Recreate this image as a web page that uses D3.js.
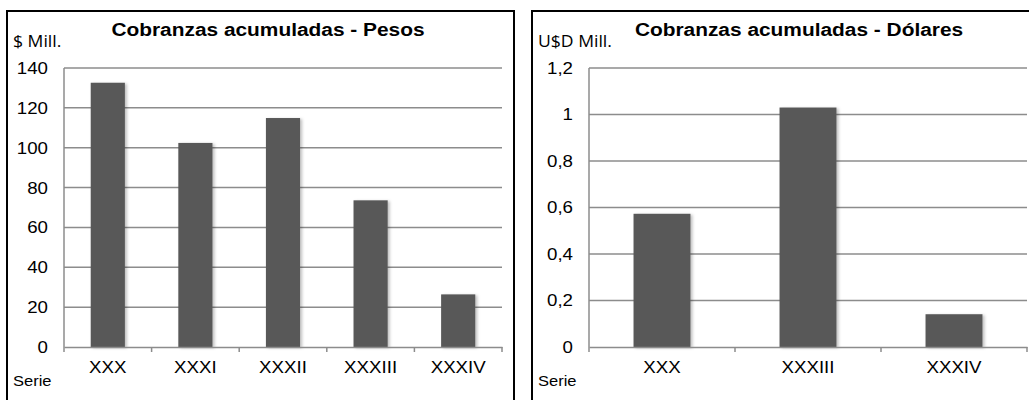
<!DOCTYPE html>
<meta charset="utf-8">
<style>
body { margin: 0; background: #fff; }
svg { display: block; font-family: "Liberation Sans", Arial, sans-serif; }
.grid line { stroke: #8c8c8c; stroke-width: 1.5px; }
.axis path, .axis line { stroke: #8c8c8c; stroke-width: 1.5px; fill: none; }
.bar { fill: #595959; }
</style>
<body>
<svg width="1029" height="400"></svg>
<script src="https://cdn.jsdelivr.net/npm/d3@7/dist/d3.min.js"></script>
<script>

// data
var pesosSeries = ["XXX", "XXXI", "XXXII", "XXXIII", "XXXIV"];
var pesosValues = [132.6, 102.4, 114.9, 73.6, 26.4];
var pesosTicks = [0, 20, 40, 60, 80, 100, 120, 140];

var dolaresSeries = ["XXX", "XXXIII", "XXXIV"];
var dolaresValues = [0.573, 1.03, 0.141];
var dolaresTicks = [0, 0.2, 0.4, 0.6, 0.8, 1, 1.2];

var svg = d3.select("svg");
var SX = 1.1; // text in the original is a bit stretched sideways

// soft shadow on bars
var defs = svg.append("defs");
var f = defs.append("filter").attr("id", "shadow")
    .attr("x", "-20%").attr("y", "-5%").attr("width", "150%").attr("height", "115%");
f.append("feDropShadow").attr("dx", 2).attr("dy", 1).attr("stdDeviation", 1.5)
    .attr("flood-color", "#000").attr("flood-opacity", 0.25);

function place(x, y, sx) {
  return "translate(" + x + "," + y + ") scale(" + (sx || SX) + ",1)";
}

function drawPanel(opt) {
  var g = svg.append("g");

  // frame
  g.append("rect")
      .attr("x", opt.box[0]).attr("y", opt.box[1])
      .attr("width", opt.box[2]).attr("height", opt.box[3])
      .attr("fill", "none").attr("stroke", "#000").attr("stroke-width", 2);

  var x = d3.scaleBand().domain(opt.series).range([opt.x0, opt.x1]).padding(0);
  var y = d3.scaleLinear().domain([0, opt.max]).range([347, 68]);

  // gridlines
  g.append("g").attr("class", "grid")
    .selectAll("line")
    .data(opt.ticks.slice(1))
    .enter().append("line")
      .attr("x1", opt.x0).attr("x2", opt.x1)
      .attr("y1", function(d) { return y(d); })
      .attr("y2", function(d) { return y(d); });

  // y axis line + labels
  g.append("line")
      .attr("x1", opt.x0).attr("x2", opt.x0)
      .attr("y1", y(opt.max)).attr("y2", y(0))
      .attr("stroke", "#8c8c8c").attr("stroke-width", 1.5);

  g.append("g").selectAll("text")
    .data(opt.ticks)
    .enter().append("text")
      .attr("transform", function(d) { return place(opt.x0 - 16, y(d)); })
      .attr("dy", "0.35em")
      .attr("text-anchor", "end")
      .attr("font-size", 17)
      .attr("fill", "#000")
      .text(opt.fmt);

  // bars
  var bw = x.bandwidth() * 0.39;
  g.append("g").selectAll("rect")
    .data(opt.values)
    .enter().append("rect")
      .attr("class", "bar")
      .attr("filter", "url(#shadow)")
      .attr("x", function(d, i) { return x(opt.series[i]) + (x.bandwidth() - bw) / 2; })
      .attr("width", bw)
      .attr("y", function(d) { return y(d); })
      .attr("height", function(d) { return y(0) - y(d); });

  // x axis
  var xa = g.append("g").attr("class", "axis")
      .attr("transform", "translate(0," + y(0) + ")")
      .call(d3.axisBottom(x).tickSizeInner(0).tickSizeOuter(0).tickFormat(""));
  xa.selectAll(".tick").remove();
  var edges = d3.range(opt.series.length + 1).map(function(i) { return opt.x0 + i * x.bandwidth(); });
  xa.selectAll(".edge").data(edges).enter().append("line")
      .attr("class", "edge")
      .attr("x1", function(d) { return d; }).attr("x2", function(d) { return d; })
      .attr("y1", 0).attr("y2", 5);

  g.append("g").selectAll("text")
    .data(opt.series)
    .enter().append("text")
      .attr("transform", function(d) { return place(x(d) + x.bandwidth() / 2, 373); })
      .attr("text-anchor", "middle")
      .attr("font-size", 17)
      .text(function(d) { return d; });

  // titles and labels
  g.append("text")
      .attr("transform", place(opt.titleX, 36, 1.16))
      .attr("text-anchor", "middle")
      .attr("font-size", 18).attr("font-weight", "bold")
      .text(opt.title);

  g.append("text")
      .attr("transform", place(opt.box[0] + 6, 47))
      .attr("font-family", "'Open Sans', sans-serif")
      .attr("font-size", 16)
      .text(opt.unit);

  g.append("text")
      .attr("transform", place(opt.box[0] + 6, 386))
      .attr("font-size", 15)
      .text("Serie");
}

drawPanel({
  box: [7, 11, 507, 400],
  x0: 64, x1: 502,
  series: pesosSeries, values: pesosValues, ticks: pesosTicks, max: 140,
  fmt: function(d) { return d; },
  title: "Cobranzas acumuladas - Pesos", titleX: 268,
  unit: "$ Mill."
});

drawPanel({
  box: [532, 11, 510, 400],
  x0: 589, x1: 1027,
  series: dolaresSeries, values: dolaresValues, ticks: dolaresTicks, max: 1.2,
  fmt: function(d) { return String(d).replace(".", ","); },
  title: "Cobranzas acumuladas - Dólares", titleX: 799,
  unit: "U$D Mill."
});

</script>
